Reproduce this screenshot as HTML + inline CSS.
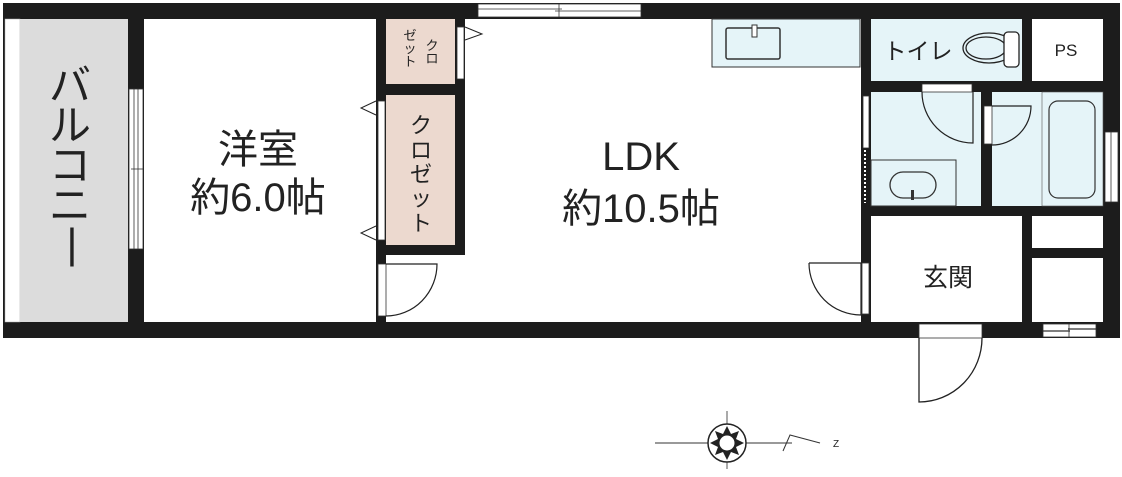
<!DOCTYPE html>
<html><head><meta charset="utf-8"><style>
html,body{margin:0;padding:0;background:#fff;width:1122px;height:477px;overflow:hidden}
svg{display:block}
text{font-family:"Liberation Sans","Noto Sans CJK JP",sans-serif;fill:#222}
</style></head><body>
<svg width="1122" height="477" viewBox="0 0 1122 477" xmlns="http://www.w3.org/2000/svg">
<!-- building mass -->
<rect x="3" y="3" width="1117" height="335" fill="#1c1c1c"/>
<!-- balcony -->
<rect x="5" y="19" width="15" height="303" fill="#fff" stroke="#aaa" stroke-width="0.5"/>
<rect x="20" y="19" width="108" height="303" fill="#dcdcdc"/>
<!-- western room -->
<rect x="144" y="19" width="232" height="303" fill="#fff"/>
<!-- closets -->
<rect x="386" y="19" width="69" height="65" fill="#ecd9cf"/>
<rect x="386" y="95" width="69" height="150" fill="#ecd9cf"/>
<!-- area below closets -->
<rect x="386" y="255" width="80" height="67" fill="#fff"/>
<!-- LDK -->
<rect x="465" y="19" width="396" height="303" fill="#fff"/>
<rect x="712" y="19" width="148" height="48" fill="#e5f4f8" stroke="#333" stroke-width="1"/>
<rect x="726" y="28" width="54" height="31" rx="2" fill="none" stroke="#333" stroke-width="1.5"/>
<rect x="752" y="25" width="5" height="12" fill="#fff" stroke="#333" stroke-width="1"/>
<!-- toilet -->
<rect x="871" y="19" width="151" height="62" fill="#e5f4f8"/>
<ellipse cx="989" cy="48" rx="26" ry="15" fill="none" stroke="#222" stroke-width="1.3"/>
<ellipse cx="986" cy="48" rx="20" ry="11" fill="none" stroke="#222" stroke-width="1.3"/>
<rect x="1004" y="32" width="15" height="35" rx="4" fill="#fff" stroke="#222" stroke-width="1.3"/>
<!-- PS -->
<rect x="1032" y="19" width="71" height="62" fill="#fff"/>
<!-- washroom -->
<rect x="871" y="92" width="110" height="114" fill="#e5f4f8"/>
<rect x="871" y="160" width="85" height="46" fill="#e5f4f8" stroke="#333" stroke-width="1"/>
<rect x="890" y="172" width="46" height="26" rx="13" fill="none" stroke="#333" stroke-width="1.3"/>
<rect x="911" y="190" width="3" height="10" fill="#333"/>
<rect x="922" y="84" width="50" height="8" fill="#fff" stroke="#333" stroke-width="0.8"/>
<path d="M922 92 A51 51 0 0 0 973 143 L973 92" fill="none" stroke="#222" stroke-width="1.2"/>
<rect x="863" y="96" width="6" height="52" fill="#fff" stroke="#333" stroke-width="0.8"/>
<line x1="865" y1="150" x2="865" y2="203" stroke="#fff" stroke-width="2" stroke-dasharray="2,2"/>
<!-- bath -->
<rect x="992" y="92" width="50" height="114" fill="#e5f4f8"/>
<rect x="1042" y="92" width="61" height="114" fill="#e5f4f8" stroke="#555" stroke-width="0.6"/>
<rect x="1049" y="101" width="46" height="97" rx="9" fill="none" stroke="#333" stroke-width="1.2"/>
<rect x="984" y="106" width="8" height="38" fill="#fff" stroke="#333" stroke-width="0.8"/>
<path d="M992 106 L1031 106 A39 39 0 0 1 992 145" fill="none" stroke="#222" stroke-width="1.2"/>
<rect x="1105" y="132" width="13" height="70" fill="#fff" stroke="#333" stroke-width="0.8"/>
<line x1="1111" y1="132" x2="1111" y2="202" stroke="#333" stroke-width="0.8"/>
<!-- genkan -->
<rect x="871" y="216" width="151" height="106" fill="#fff"/>
<rect x="1032" y="216" width="71" height="32" fill="#fff"/>
<rect x="1032" y="258" width="71" height="64" fill="#fff"/>
<rect x="1043" y="324" width="53" height="13" fill="#fff" stroke="#333" stroke-width="0.8"/>
<line x1="1043" y1="331" x2="1070" y2="331" stroke="#333" stroke-width="1.2"/>
<line x1="1068" y1="329" x2="1096" y2="329" stroke="#333" stroke-width="1.2"/>
<line x1="1069" y1="324" x2="1069" y2="337" stroke="#333" stroke-width="0.8"/>
<!-- LDK-genkan door -->
<rect x="862" y="263" width="7" height="51" fill="#fff" stroke="#333" stroke-width="0.8"/>
<path d="M809 263 L861 263 L861 315 A52 52 0 0 1 809 263" fill="none" stroke="#222" stroke-width="1.2"/>
<rect x="862" y="263" width="7" height="51" fill="#fff" stroke="#333" stroke-width="0.8"/>
<!-- entrance door -->
<rect x="919" y="324" width="63" height="14" fill="#fff" stroke="#333" stroke-width="0.8"/>
<path d="M982 338 A63 64 0 0 1 919 402 L919 338" fill="none" stroke="#222" stroke-width="1.3"/>
<!-- top window -->
<rect x="478" y="4" width="163" height="13" fill="#fff" stroke="#333" stroke-width="0.8"/>
<line x1="478" y1="9" x2="562" y2="9" stroke="#333" stroke-width="0.8"/>
<line x1="555" y1="11" x2="641" y2="11" stroke="#333" stroke-width="0.8"/>
<line x1="559" y1="4" x2="559" y2="17" stroke="#333" stroke-width="0.8"/>
<!-- balcony window -->
<rect x="129" y="89" width="14" height="160" fill="#fff" stroke="#333" stroke-width="0.8"/>
<line x1="134" y1="89" x2="134" y2="249" stroke="#333" stroke-width="0.8"/>
<line x1="138" y1="89" x2="138" y2="249" stroke="#333" stroke-width="0.8"/>
<line x1="131" y1="169" x2="143" y2="169" stroke="#333" stroke-width="0.8"/>
<!-- closet doors -->
<rect x="457" y="27" width="7" height="52" fill="#fff" stroke="#333" stroke-width="0.8"/>
<path d="M465 27 L482 34 L465 40" fill="#fff" stroke="#222" stroke-width="1"/>
<rect x="378" y="101" width="7" height="139" fill="#fff" stroke="#333" stroke-width="0.8"/>
<path d="M376 101 L361 108 L376 115" fill="#fff" stroke="#222" stroke-width="1"/>
<path d="M376 226 L361 233 L376 240" fill="#fff" stroke="#222" stroke-width="1"/>
<!-- western room door -->
<rect x="378" y="264" width="8" height="52" fill="#fff" stroke="#333" stroke-width="0.8"/>
<path d="M386 316 A51 52 0 0 0 437 264 L386 264" fill="none" stroke="#222" stroke-width="1.2"/>
<!-- labels -->
<g font-size="42">
<text x="70" y="100" text-anchor="middle">バ</text>
<text x="70" y="140" text-anchor="middle">ル</text>
<text x="70" y="180" text-anchor="middle">コ</text>
<text x="70" y="220" text-anchor="middle">ニ</text>
<text x="72" y="258" text-anchor="middle">|</text>
</g>
<text x="258" y="163" font-size="40" text-anchor="middle">洋室</text>
<text x="258" y="211" font-size="40" text-anchor="middle">約6.0帖</text>
<text x="641" y="170" font-size="40" text-anchor="middle">LDK</text>
<text x="641" y="222" font-size="40" text-anchor="middle">約10.5帖</text>
<g font-size="22">
<text x="421" y="133" text-anchor="middle">ク</text>
<text x="421" y="158" text-anchor="middle">ロ</text>
<text x="421" y="182" text-anchor="middle">ゼ</text>
<text x="421" y="206" text-anchor="middle">ッ</text>
<text x="421" y="231" text-anchor="middle">ト</text>
</g>
<g font-size="13">
<text x="432" y="50" text-anchor="middle">ク</text>
<text x="432" y="63" text-anchor="middle">ロ</text>
<text x="410" y="40" text-anchor="middle">ゼ</text>
<text x="410" y="53" text-anchor="middle">ッ</text>
<text x="410" y="66" text-anchor="middle">ト</text>
</g>
<text x="918" y="59" font-size="23" text-anchor="middle">トイレ</text>
<text x="1066" y="56" font-size="17" text-anchor="middle">PS</text>
<text x="948" y="286" font-size="25" text-anchor="middle">玄関</text>
<!-- compass -->
<line x1="655" y1="443" x2="792" y2="443" stroke="#333" stroke-width="1"/>
<line x1="727" y1="411" x2="727" y2="469" stroke="#555" stroke-width="1"/>
<circle cx="727" cy="443" r="19" fill="#fff" stroke="#222" stroke-width="1.5"/>
<path d="M727 426 L731 434 L739 431 L736 439 L744 443 L736 447 L739 455 L731 452 L727 460 L723 452 L715 455 L718 447 L710 443 L718 439 L715 431 L723 434 Z" fill="#222"/>
<circle cx="727" cy="443" r="8" fill="#fff" stroke="#222" stroke-width="1"/>
<path d="M783 451 L790 435 L820 443" fill="none" stroke="#333" stroke-width="1"/>
<text x="836" y="447" font-size="10" text-anchor="middle">Z</text>
</svg>
</body></html>
